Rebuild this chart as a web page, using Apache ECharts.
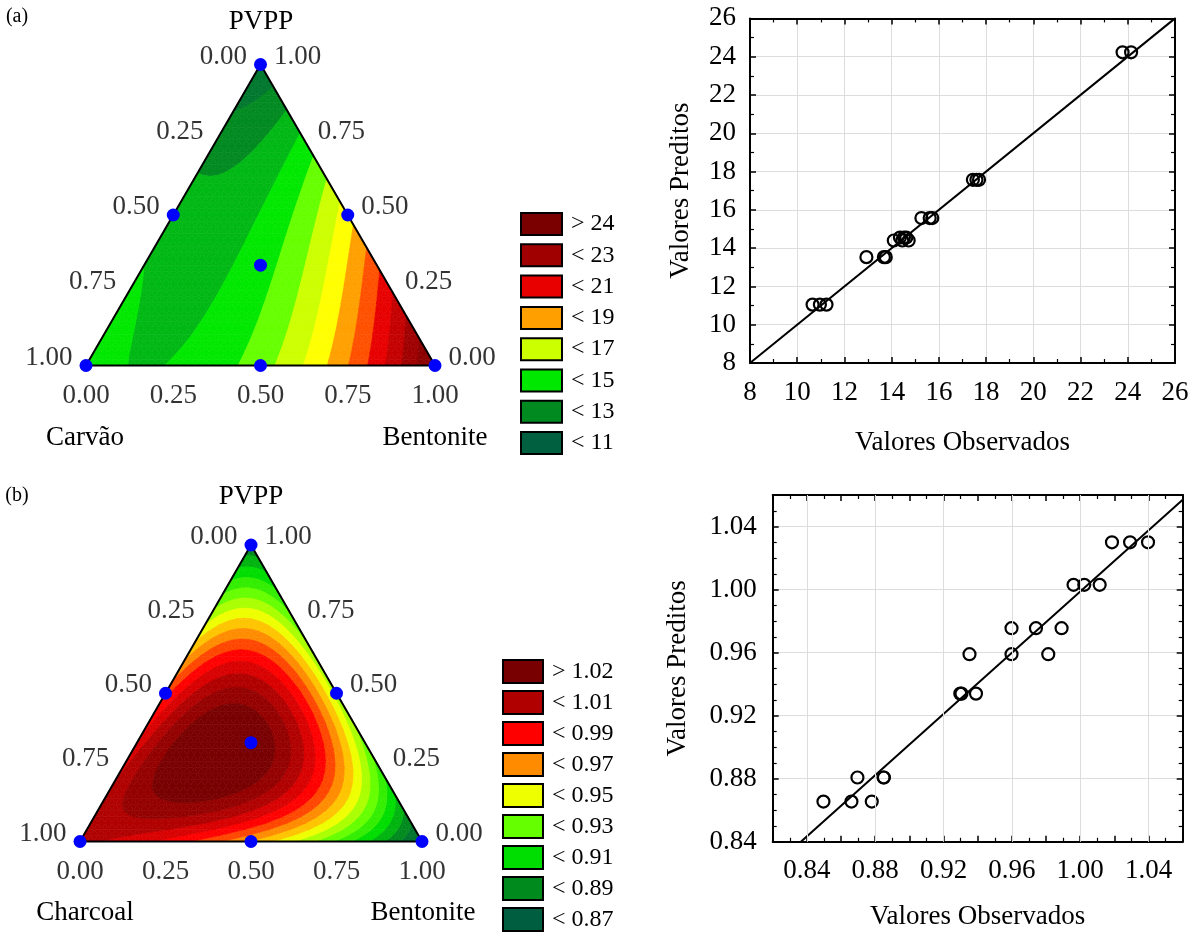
<!DOCTYPE html>
<html lang="pt">
<head>
    <meta charset="UTF-8">
    <title>Misturas ternárias</title>
    <style>
        html, body { margin: 0; padding: 0; background: #fff; }
    </style>
</head>
<body>
<script src="https://cdn.jsdelivr.net/npm/echarts@6/dist/echarts.min.js"></script>
<div id="main" style="width: 1199px;height:934px;"></div>

<script>
    // design points (simplex-centroid): Carvão, Bentonite, PVPP, C+B, C+P, B+P, centroide
    var mixCarvao = [1, 0, 0, 0.5, 0.5, 0, 0.3333];
    var mixBentonite = [0, 1, 0, 0.5, 0, 0.5, 0.3333];
    var mixPvpp = [0, 0, 1, 0, 0.5, 0.5, 0.3334];

    // predicted values at the design points
    var predA = [14.40, 24.23, 11.05, 15.57, 13.53, 17.57, 14.55];
    var predB = [1.003, 0.8655, 0.8808, 0.959, 0.9755, 0.934, 1.030];

    // contour levels and colours
    var levelsA = [11, 12, 13, 14, 15, 16, 17, 18, 19, 20, 21, 22, 23, 24];
    var colorsA = ['#006040', '#00772e', '#008a20', '#00b814', '#00e800', '#66ff00', '#ccff00', '#ffff00',
        '#ffa000', '#ff5000', '#e80000', '#c40000', '#a00000', '#8c0000', '#7a0000'];
    var legendA = ['> 24', '< 23', '< 21', '< 19', '< 17', '< 15', '< 13', '< 11'];

    var levelsB = [0.87, 0.88, 0.89, 0.90, 0.91, 0.92, 0.93, 0.94, 0.95, 0.96, 0.97, 0.98, 0.99, 1.00, 1.01, 1.02];
    var colorsB = ['#005e40', '#00742f', '#008a1e', '#00b40f', '#00dd00', '#33ee00', '#66ff00', '#aaff00',
        '#eeff00', '#ffc400', '#ff8c00', '#ff4600', '#ff0000', '#d80000', '#b00000', '#940000', '#780000'];
    var legendB = ['> 1.02', '< 1.01', '< 0.99', '< 0.97', '< 0.95', '< 0.93', '< 0.91', '< 0.89', '< 0.87'];

    var ternTicks = [0, 0.25, 0.5, 0.75, 1];

    // observed vs predicted (a)
    var obsA = [10.65, 10.96, 11.24, 12.93, 13.67, 13.75, 14.09, 14.45, 14.72, 14.35, 14.52, 14.62,
        15.26, 15.61, 15.72, 17.44, 17.59, 17.70, 23.78, 24.14];
    var prdA = [11.05, 11.05, 11.05, 13.53, 13.53, 13.53, 14.40, 14.40, 14.40, 14.55, 14.55, 14.55,
        15.57, 15.57, 15.57, 17.57, 17.57, 17.57, 24.23, 24.23];
    var lineA = [[8, 8], [26, 26]];

    // observed vs predicted (b)
    var obsB = [0.8497, 0.8661, 0.8780, 0.8696, 0.8849, 0.8851, 0.9298, 0.9305, 0.9390, 0.9352, 0.9598, 0.9813,
        0.9598, 0.9741, 0.9891, 0.9961, 1.0024, 1.0114, 1.0186, 1.0292, 1.0397];
    var prdB = [0.8655, 0.8655, 0.8655, 0.8808, 0.8808, 0.8808, 0.934, 0.934, 0.934, 0.959, 0.959, 0.959,
        0.9755, 0.9755, 0.9755, 1.003, 1.003, 1.003, 1.030, 1.030, 1.030];
    var lineB = [[0.8365, 0.84], [1.06, 1.057]];
    var gridXB = [0.84, 0.88, 0.92, 0.96, 1.00, 1.04];
    var ticksYB = [0.84, 0.88, 0.92, 0.96, 1.00, 1.04];

    var H = Math.sqrt(3) / 2;
    var FONT = "'Liberation Serif', 'Times New Roman', serif";

    // ternary -> cartesian (Carvão/Charcoal left, Bentonite right, PVPP top)
    function toXY(b, p) {
        return [b + p / 2, p * H];
    }

    // special cubic mixture model from the 7 design values
    function fitModel(v) {
        var b1 = v[0], b2 = v[1], b3 = v[2];
        var b12 = 4 * (v[3] - (b1 + b2) / 2);
        var b13 = 4 * (v[4] - (b1 + b3) / 2);
        var b23 = 4 * (v[5] - (b2 + b3) / 2);
        var b123 = 27 * (v[6] - (b1 + b2 + b3) / 3 - (b12 + b13 + b23) / 9);
        return function (c, b, p) {
            return b1 * c + b2 * b + b3 * p + b12 * c * b + b13 * c * p + b23 * b * p + b123 * c * b * p;
        };
    }

    function clipPoly(poly, level, above) {
        var out = [];
        for (var k = 0; k < poly.length; k++) {
            var A = poly[k], B = poly[(k + 1) % poly.length];
            var ina = above ? A.v >= level : A.v < level;
            var inb = above ? B.v >= level : B.v < level;
            if (ina) out.push(A);
            if (ina !== inb) {
                var t = (level - A.v) / (B.v - A.v);
                out.push({x: A.x + t * (B.x - A.x), y: A.y + t * (B.y - A.y), v: level});
            }
        }
        return out;
    }

    // filled contour bands: returns one polygon list per band
    function buildBands(pred, levels) {
        var f = fitModel(pred);
        var N = 48;
        var pts = [];
        for (var i = 0; i <= N; i++) {
            pts[i] = [];
            for (var j = 0; i + j <= N; j++) {
                var b = i / N, p = j / N;
                var xy = toXY(b, p);
                pts[i][j] = {x: xy[0], y: xy[1], v: f(1 - b - p, b, p)};
            }
        }
        var tris = [];
        for (i = 0; i < N; i++) {
            for (j = 0; i + j < N; j++) {
                tris.push([pts[i][j], pts[i + 1][j], pts[i][j + 1]]);
                if (i + j < N - 1) tris.push([pts[i + 1][j], pts[i + 1][j + 1], pts[i][j + 1]]);
            }
        }
        var bands = [];
        for (var k = 0; k <= levels.length; k++) {
            var list = [];
            tris.forEach(function (tri) {
                var poly = tri;
                if (k > 0) poly = clipPoly(poly, levels[k - 1], true);
                if (poly.length >= 3 && k < levels.length) poly = clipPoly(poly, levels[k], false);
                if (poly.length >= 3) list.push(poly.map(function (q) { return [q.x, q.y]; }));
            });
            bands.push(list);
        }
        return bands;
    }

    function bandSeries(pred, levels, colors, gridIdx, fmt) {
        var bands = buildBands(pred, levels);
        return bands.map(function (polys, k) {
            var name = k === levels.length ? '> ' + fmt(levels[k - 1]) : '< ' + fmt(levels[k]);
            return {
                name: name,
                type: 'custom',
                xAxisIndex: gridIdx,
                yAxisIndex: gridIdx,
                silent: true,
                clip: false,
                z: 1,
                itemStyle: {color: colors[k]},
                data: polys.map(function (pl) { return pl[0]; }),
                renderItem: function (params, api) {
                    var pl = polys[params.dataIndex];
                    return {
                        type: 'polygon',
                        shape: {points: pl.map(function (q) { return api.coord(q); })},
                        style: {fill: colors[k], stroke: colors[k], lineWidth: 0.6}
                    };
                }
            };
        });
    }

    function ternaryExtras(gridIdx, mixC, mixB, mixP) {
        var lbl = {fontFamily: FONT, fontSize: 27, color: '#000'};
        var fmt = function (p) { return p.value[2].toFixed(2); };
        var frame = [[0, 0], [1, 0], [0.5, H], [0, 0]];
        var design = mixB.map(function (b, i) { return toXY(b, mixP[i]); });
        var base = {type: 'scatter', xAxisIndex: gridIdx, yAxisIndex: gridIdx, symbolSize: 1, silent: true,
            clip: false, itemStyle: {color: 'rgba(0,0,0,0)'}};
        return [
            {type: 'line', xAxisIndex: gridIdx, yAxisIndex: gridIdx, data: frame, symbol: 'none', silent: true,
                clip: false, z: 5, lineStyle: {color: '#000', width: 2}},
            {type: 'scatter', xAxisIndex: gridIdx, yAxisIndex: gridIdx, data: design, symbolSize: 13,
                silent: true, clip: false, z: 10, itemStyle: {color: '#0000ff', opacity: 1}},
            Object.assign({}, base, {
                data: ternTicks.map(function (t) { return [t, 0, t]; }),
                label: Object.assign({show: true, position: 'bottom', distance: 16, formatter: fmt}, lbl)
            }),
            Object.assign({}, base, {
                data: ternTicks.map(function (u) { return [1 - u / 2, u * H, u]; }),
                label: Object.assign({show: true, position: 'right', distance: 13, offset: [0, -8], formatter: fmt}, lbl)
            }),
            Object.assign({}, base, {
                data: ternTicks.map(function (c) { return [(1 - c) / 2, (1 - c) * H, c]; }),
                label: Object.assign({show: true, position: 'left', distance: 13, offset: [0, -8], formatter: fmt}, lbl)
            })
        ];
    }

    var axisFont = {fontFamily: FONT, fontSize: 27, color: '#000'};
    var lineStyleBlack = {color: '#000', width: 2};
    var tickStyle = {show: true, inside: true, length: 6, lineStyle: {color: '#000', width: 1.5}};
    var gridStyle = {show: true, lineStyle: {color: '#dddddd', width: 1}};

    function hiddenAxis(gridIdx, max) {
        return {type: 'value', gridIndex: gridIdx, min: 0, max: max, show: false};
    }

    function mirrorAxis(gridIdx, pos, ax) {
        return {
            type: 'value', gridIndex: gridIdx, position: pos, min: ax.min, max: ax.max, interval: ax.interval,
            axisLine: {lineStyle: lineStyleBlack}, axisTick: tickStyle,
            minorTick: {show: true, splitNumber: ax.minorTick.splitNumber, length: 4, lineStyle: {color: '#000', width: 1.2}},
            axisLabel: {show: false}, splitLine: {show: false}
        };
    }

    function showOnly(list) {
        return function (v) {
            for (var i = 0; i < list.length; i++) {
                if (Math.abs(v - list[i]) < 1e-6) return v.toFixed(2);
            }
            return '';
        };
    }

    var xA = {
        type: 'value', gridIndex: 1, min: 8, max: 26, interval: 2,
        axisLine: {lineStyle: lineStyleBlack}, axisTick: tickStyle,
        minorTick: {show: true, splitNumber: 2, length: 4, lineStyle: {color: '#000', width: 1.2}},
        axisLabel: Object.assign({margin: 16}, axisFont), splitLine: gridStyle,
        name: 'Valores Observados', nameLocation: 'middle', nameGap: 66, nameTextStyle: axisFont
    };
    var yA = {
        type: 'value', gridIndex: 1, min: 8, max: 26, interval: 2,
        axisLine: {lineStyle: lineStyleBlack}, axisTick: tickStyle,
        minorTick: {show: true, splitNumber: 2, length: 4, lineStyle: {color: '#000', width: 1.2}},
        axisLabel: Object.assign({margin: 14}, axisFont), splitLine: gridStyle,
        name: 'Valores Preditos', nameLocation: 'middle', nameGap: 56, nameTextStyle: axisFont
    };
    var xB = {
        type: 'value', gridIndex: 3, min: 0.82, max: 1.06, interval: 0.02,
        axisLine: {lineStyle: lineStyleBlack}, axisTick: tickStyle,
        minorTick: {show: true, splitNumber: 2, length: 4, lineStyle: {color: '#000', width: 1.2}},
        axisLabel: Object.assign({margin: 16, formatter: showOnly(gridXB)}, axisFont), splitLine: {show: false},
        name: 'Valores Observados', nameLocation: 'middle', nameGap: 62, nameTextStyle: axisFont
    };
    var yB = {
        type: 'value', gridIndex: 3, min: 0.84, max: 1.06, interval: 0.04,
        axisLine: {lineStyle: lineStyleBlack}, axisTick: tickStyle,
        minorTick: {show: true, splitNumber: 4, length: 4, lineStyle: {color: '#000', width: 1.2}},
        axisLabel: Object.assign({margin: 16, formatter: showOnly(ticksYB)}, axisFont), splitLine: gridStyle,
        name: 'Valores Preditos', nameLocation: 'middle', nameGap: 81, nameTextStyle: axisFont
    };

    function pairs(xs, ys) {
        return xs.map(function (x, i) { return [x, ys[i]]; });
    }

    var circleStyle = {color: 'rgba(0,0,0,0)', borderColor: '#000', borderWidth: 2.2, opacity: 1};

    var series = []
        .concat(bandSeries(predA, levelsA, colorsA, 0, function (v) { return String(v); }))
        .concat(ternaryExtras(0, mixCarvao, mixBentonite, mixPvpp))
        .concat(bandSeries(predB, levelsB, colorsB, 3, function (v) { return v.toFixed(2); }))
        .concat(ternaryExtras(3, mixCarvao, mixBentonite, mixPvpp))
        .concat([
            {type: 'line', xAxisIndex: 1, yAxisIndex: 1, data: lineA, symbol: 'none', silent: true,
                lineStyle: {color: '#000', width: 2}, z: 3},
            {type: 'scatter', xAxisIndex: 1, yAxisIndex: 1, data: pairs(obsA, prdA), symbol: 'circle',
                symbolSize: 12, itemStyle: circleStyle, silent: true, z: 4},
            {type: 'line', xAxisIndex: 4, yAxisIndex: 4, data: lineB, symbol: 'none', silent: true,
                lineStyle: {color: '#000', width: 2}, z: 3,
                markLine: {silent: true, symbol: ['none', 'none'], label: {show: false}, animation: false,
                    lineStyle: {color: '#dddddd', type: 'solid', width: 1},
                    data: gridXB.map(function (v) { return {xAxis: v}; })}},
            {type: 'scatter', xAxisIndex: 4, yAxisIndex: 4, data: pairs(obsB, prdB), symbol: 'circle',
                symbolSize: 12, itemStyle: circleStyle, silent: true, z: 4}
        ]);

    function txt(x, y, s, size) {
        return {type: 'text', x: x, y: y, silent: true,
            style: {text: s, font: (size || 27) + 'px ' + FONT, fill: '#000', textAlign: 'center', textVerticalAlign: 'middle'}};
    }

    var legendBase = {
        orient: 'vertical', selectedMode: false, icon: 'rect', padding: 0, height: 300,
        itemStyle: {borderColor: '#000', borderWidth: 2},
        textStyle: {fontFamily: FONT, fontSize: 24, lineHeight: 20, color: '#000', padding: [0, 0, 0, 4]}
    };

    var myChart = echarts.init(document.getElementById('main'));
    var option = {
        animation: false,
        backgroundColor: '#fff',
        grid: [
            {left: 86, top: 64.5, width: 349, height: 301},
            {left: 750, top: 18.4, width: 425, height: 344.6},
            {left: 80, top: 545, width: 342, height: 296.5},
            {left: 772.7, top: 495, width: 410, height: 346.8}
        ],
        xAxis: [hiddenAxis(0, 1), xA, mirrorAxis(1, 'top', xA), hiddenAxis(2, 1), xB, mirrorAxis(3, 'top', xB)],
        yAxis: [hiddenAxis(0, H), yA, mirrorAxis(1, 'right', yA), hiddenAxis(2, H), yB, mirrorAxis(3, 'right', yB)],
        legend: [
            Object.assign({}, legendBase, {left: 520, top: 212, itemWidth: 41, itemHeight: 22, itemGap: 7.3, data: legendA}),
            Object.assign({}, legendBase, {left: 502, top: 659, itemWidth: 40, itemHeight: 23, itemGap: 6, data: legendB})
        ],
        graphic: [
            txt(17, 17, '(a)', 20),
            txt(261, 22, 'PVPP'),
            txt(85, 438, 'Carvão'),
            txt(435, 438, 'Bentonite'),
            txt(17, 496, '(b)', 20),
            txt(251, 497, 'PVPP'),
            txt(85, 913, 'Charcoal'),
            txt(423, 913, 'Bentonite')
        ],
        series: series
    };
    myChart.setOption(option);
</script>
</body>
</html>
